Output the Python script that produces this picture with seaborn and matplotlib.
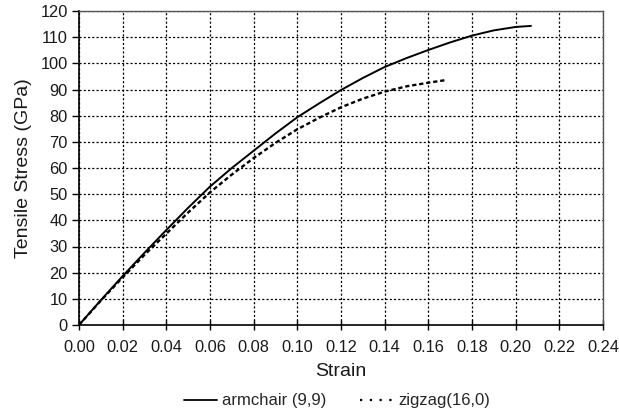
import matplotlib
matplotlib.use("Agg")
import matplotlib.pyplot as plt
from matplotlib.lines import Line2D
import seaborn as sns
import numpy as np
import pandas as pd

# Data
armchair_strain = [0.00, 0.01, 0.02, 0.03, 0.04, 0.05, 0.06, 0.07, 0.08, 0.09, 0.10,
                   0.11, 0.12, 0.13, 0.14, 0.15, 0.16, 0.17, 0.18, 0.19, 0.20, 0.207]
armchair_stress = [0.0, 9.5, 18.7, 27.6, 36.3, 44.8, 52.9, 60.0, 66.6, 73.2, 79.4,
                   84.7, 89.8, 94.4, 98.6, 102.0, 105.1, 108.0, 110.6, 112.6, 113.9, 114.3]

zigzag_strain = [0.00, 0.01, 0.02, 0.03, 0.04, 0.05, 0.06, 0.07, 0.08, 0.09, 0.10,
                 0.11, 0.12, 0.13, 0.14, 0.15, 0.16, 0.168]
zigzag_stress = [0.0, 9.3, 18.2, 26.8, 34.9, 43.0, 50.7, 57.5, 63.8, 69.6, 74.8,
                 79.2, 83.2, 86.5, 89.2, 91.2, 92.6, 93.6]

x_ticks = [0.00, 0.02, 0.04, 0.06, 0.08, 0.10, 0.12, 0.14, 0.16, 0.18, 0.20, 0.22, 0.24]
y_ticks = [0, 10, 20, 30, 40, 50, 60, 70, 80, 90, 100, 110, 120]

sns.set_style("white")
plt.rcParams['font.family'] = ['Liberation Sans', 'DejaVu Sans']

fig = plt.figure(figsize=(6.19, 4.16), dpi=100)
ax = fig.add_axes([79/619, 1 - 325/416, (603 - 79)/619, (325 - 11)/416])

sns.lineplot(x=armchair_strain, y=armchair_stress, ax=ax, color="black",
             linewidth=1.4, sort=False)
sns.lineplot(x=zigzag_strain, y=zigzag_stress, ax=ax, color="black",
             linewidth=1.7, sort=False)
ax.lines[1].set_linestyle((0, (1.8, 1.2)))

ax.set_xlim(0, 0.24)
ax.set_ylim(0, 120)
ax.set_xticks(x_ticks)
ax.set_xticklabels([f"{v:.2f}" for v in x_ticks])
ax.set_yticks(y_ticks)
ax.set_yticklabels([str(v) for v in y_ticks])

ax.grid(True, color="black", linestyle=(0, (1.7, 1.7)), linewidth=0.9)
ax.set_axisbelow(True)

for s in ["left", "bottom"]:
    ax.spines[s].set_color("black")
    ax.spines[s].set_linewidth(1.2)
for s in ["top", "right"]:
    ax.spines[s].set_color("#555555")
    ax.spines[s].set_linewidth(1.0)

ax.tick_params(axis="x", direction="inout", length=7, width=1, colors="black",
               labelsize=11.8, pad=7, bottom=True)
ax.tick_params(axis="y", direction="out", length=5, width=1, colors="black",
               labelsize=11.8, pad=3, left=True)
for lbl in ax.get_xticklabels() + ax.get_yticklabels():
    lbl.set_color("#1a1a1a")

ax.set_xlabel("Strain", fontsize=14, labelpad=6, color="#1a1a1a")
ax.set_ylabel("Tensile Stress (GPa)", fontsize=14, labelpad=6, color="#1a1a1a")

handles = [Line2D([], [], color="black", linewidth=1.3),
           Line2D([], [], color="black", linewidth=1.6, linestyle=(0, (1.0, 3.4)))]
labels = ["armchair (9,9)", "zigzag(16,0)"]
fig.legend(handles, labels, loc="center", bbox_to_anchor=(337/619, 1 - 401/416),
           ncol=2, frameon=False, fontsize=12, handlelength=2.0,
           columnspacing=2.0, handletextpad=0.3)

fig.savefig("out.png", dpi=100)
